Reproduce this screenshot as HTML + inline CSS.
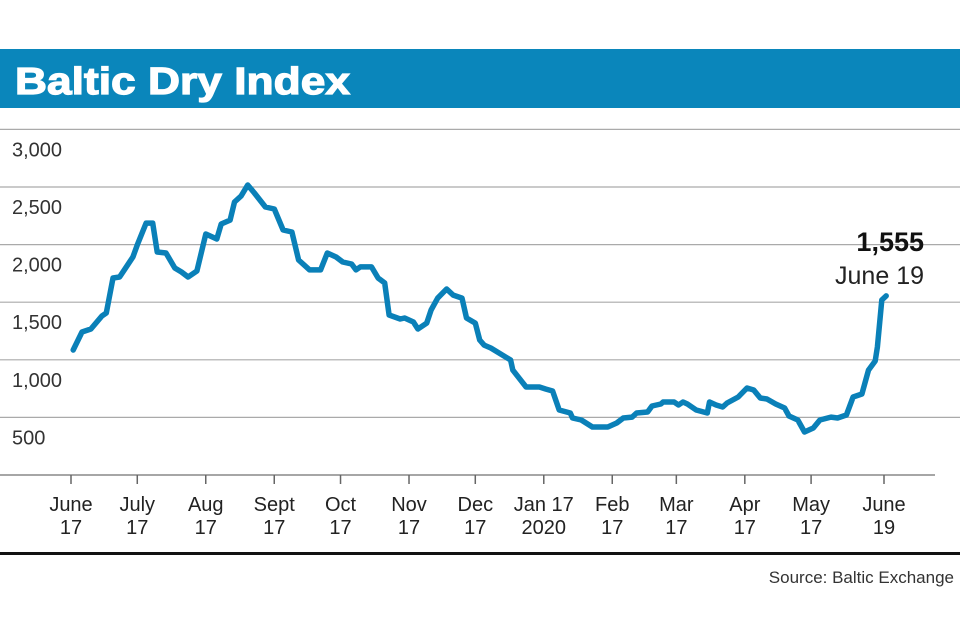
<!DOCTYPE html>
<html><head><meta charset="utf-8"><style>
html,body{margin:0;padding:0;background:#fff;}
svg{display:block;font-family:"Liberation Sans",sans-serif;}
</style></head><body>
<svg id="chart" width="960" height="640" viewBox="0 0 960 640">
<rect x="0" y="49" width="960" height="59" fill="#0a86bb"/>
<text x="15" y="94" font-size="38" font-weight="bold" fill="#fff" stroke="#fff" stroke-width="1.2" textLength="335" lengthAdjust="spacingAndGlyphs">Baltic Dry Index</text>
<g id="grid"></g>
<g id="xaxis"></g>
<path id="line" fill="none" stroke="#0a80b8" stroke-width="5.5" stroke-linejoin="round" stroke-linecap="round"/>
<text x="924" y="251" font-size="27" font-weight="bold" fill="#111" text-anchor="end">1,555</text>
<text x="924" y="284" font-size="25" fill="#222" text-anchor="end">June 19</text>
<rect x="0" y="552" width="960" height="3" fill="#111"/>
<text x="954" y="583" font-size="17" fill="#333" text-anchor="end">Source: Baltic Exchange</text>
</svg>
<script>
const yTicks = [500, 1000, 1500, 2000, 2500, 3000];
const yTickLabels = ["500", "1,000", "1,500", "2,000", "2,500", "3,000"];
const xTickDays = [0, 30, 61, 92, 122, 153, 183, 214, 245, 274, 305, 335, 368];
const xTickLine1 = ["June", "July", "Aug", "Sept", "Oct", "Nov", "Dec", "Jan 17", "Feb", "Mar", "Apr", "May", "June"];
const xTickLine2 = ["17", "17", "17", "17", "17", "17", "17", "2020", "17", "17", "17", "17", "19"];
const days = [1,5,9,14,16,19,22,28,30,34,37,39,43,47,50,53,57,61,66,68,72,74,77,80,83,88,92,96,100,103,108,113,116,120,123,127,129,131,136,139,142,144,149,151,155,157,161,163,166,170,173,177,179,183,185,187,190,199,200,206,212,215,218,221,226,227,231,236,243,247,250,254,256,261,263,267,268,273,275,277,279,283,288,289,292,295,297,302,306,309,312,315,319,323,325,329,332,336,339,344,347,351,354,358,361,364,365,367,369];
const values = [1085,1241,1267,1380,1406,1710,1719,1892,1997,2187,2187,1936,1927,1797,1762,1719,1771,2092,2049,2179,2213,2370,2422,2517,2448,2326,2309,2127,2109,1866,1780,1780,1927,1892,1849,1832,1780,1806,1806,1710,1667,1389,1354,1363,1328,1267,1319,1432,1536,1615,1562,1536,1363,1319,1172,1128,1102,998,911,764,764,746,729,564,538,495,477,417,417,451,495,503,538,547,599,616,634,634,608,634,616,564,538,634,608,590,625,677,755,738,668,660,616,582,512,477,373,408,477,503,495,521,677,703,911,990,1111,1519,1555];

const NS = "http://www.w3.org/2000/svg";
const x = d => 71 + d * (884 - 71) / 368;
const y = v => 475 - v * 0.1152;
const grid = document.getElementById('grid');
const xa = document.getElementById('xaxis');
function mk(tag, attrs, parent){ const e=document.createElementNS(NS,tag); for(const k in attrs) e.setAttribute(k,attrs[k]); parent.appendChild(e); return e; }

yTicks.forEach((v,i)=>{
  const l = mk('line',{x1:0,x2:960,y1:y(v),y2:y(v),stroke:'#aaa','stroke-width':1.2},grid);
  
  
  const t = mk('text',{x:12,y:y(v)+27,'font-size':20,fill:'#333'},grid);
  t.textContent = yTickLabels[i];
  
  
});
const ax = mk('line',{x1:0,x2:935,y1:475,y2:475,stroke:'#888','stroke-width':1.5},xa);


xTickDays.forEach((d,i)=>{
  const tk = mk('line',{x1:x(d),x2:x(d),y1:475,y2:484,stroke:'#666','stroke-width':1.5},xa);
  
  
  const t = mk('text',{x:x(d),y:511,'font-size':20,fill:'#222','text-anchor':'middle'},xa);
  t.textContent = xTickLine1[i];
  
  
  const t2 = mk('text',{x:x(d),y:534,'font-size':20,fill:'#222','text-anchor':'middle'},xa);
  t2.textContent = xTickLine2[i];
  
  
});
document.getElementById('line').setAttribute('d', days.map((d,i)=>(i?'L':'M')+x(d).toFixed(1)+','+y(values[i]).toFixed(1)).join(''));
</script>
</body></html>
